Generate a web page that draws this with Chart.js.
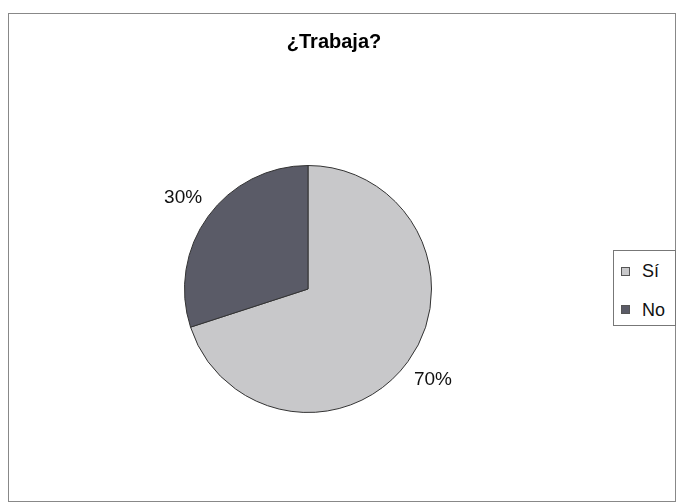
<!DOCTYPE html>
<html>
<head>
<meta charset="utf-8">
<script src="https://cdn.jsdelivr.net/npm/chart.js@4"></script>
<style>
  html, body { margin: 0; padding: 0; background: #fff; }
  body { width: 676px; height: 504px; position: relative; overflow: hidden; font-family: "Liberation Sans", Arial, sans-serif; }
  #frame { position: absolute; left: 8px; top: 13px; width: 666px; height: 487px; border: 1px solid #888; }
  #wrap { position: absolute; left: 0; top: 0; width: 676px; height: 504px; }
  #legend { position: absolute; left: 613px; top: 250px; width: 61px; height: 74px; border: 1px solid #777; background: #fff; }
  .sw { position: absolute; left: 7px; width: 7px; height: 7px; border: 1px solid #555; }
  .txt { position: absolute; left: 28px; font-size: 18px; line-height: 18px; color: #111; }
</style>
</head>
<body>
<div id="frame"></div>
<div id="wrap"><canvas id="pieChart" width="676" height="504"></canvas></div>
<div id="legend"></div>
<script>
// Dati
const categorie = ['Sí', 'No'];
const valori = [70, 30];
const colori = ['#c8c8ca', '#5a5b67'];
const titolo = '¿Trabaja?';

// Titolo (spostato a destra rispetto alla torta, come nell'originale)
const titoloPlugin = {
    id: 'titolo',
    afterDraw(chart, args, opts) {
        const ctx = chart.ctx;
        ctx.save();
        ctx.font = 'bold 20px "Liberation Sans", Arial, sans-serif';
        ctx.fillStyle = '#000';
        ctx.textAlign = 'center';
        ctx.textBaseline = 'alphabetic';
        ctx.fillText(titolo, opts.x, opts.y);
        ctx.restore();
    }
};

// Etichette percentuali fuori dalla torta
const etichettePlugin = {
    id: 'etichette',
    afterDatasetsDraw(chart, args, opts) {
        const ctx = chart.ctx;
        const meta = chart.getDatasetMeta(0);
        const totale = valori.reduce((a, b) => a + b, 0);
        ctx.save();
        ctx.font = '19px "Liberation Sans", Arial, sans-serif';
        ctx.fillStyle = '#111';
        ctx.textAlign = 'center';
        ctx.textBaseline = 'middle';
        meta.data.forEach((arc, i) => {
            const mid = (arc.startAngle + arc.endAngle) / 2;
            const r = arc.outerRadius * opts.fattore;
            const x = arc.x + Math.cos(mid) * r;
            const y = arc.y + Math.sin(mid) * r;
            ctx.fillText(Math.round(valori[i] / totale * 100) + '%', x, y);
        });
        ctx.restore();
    }
};

document.addEventListener('DOMContentLoaded', () => {
    const ctx = document.getElementById('pieChart').getContext('2d');
    new Chart(ctx, {
        type: 'pie',
        data: {
            labels: categorie,
            datasets: [{
                data: valori,
                backgroundColor: colori,
                borderColor: '#333',
                borderWidth: 1
            }]
        },
        options: {
            responsive: false,
            animation: false,
            layout: { padding: { top: 165, bottom: 91, left: 100, right: 160 } },
            plugins: {
                legend: { display: false },
                tooltip: { enabled: false },
                title: { display: false },
                titolo: { x: 334, y: 48 },
                etichette: { fattore: 1.25 }
            }
        },
        plugins: [titoloPlugin, etichettePlugin]
    });

    // Legenda HTML
    const legenda = document.getElementById('legend');
    categorie.forEach((c, i) => {
        const q = document.createElement('div');
        q.className = 'sw';
        q.style.top = (16 + i * 38) + 'px';
        q.style.background = colori[i];
        legenda.appendChild(q);
        const t = document.createElement('div');
        t.className = 'txt';
        t.style.top = (11 + i * 39) + 'px';
        t.textContent = c;
        legenda.appendChild(t);
    });
});
</script>
</body>
</html>
